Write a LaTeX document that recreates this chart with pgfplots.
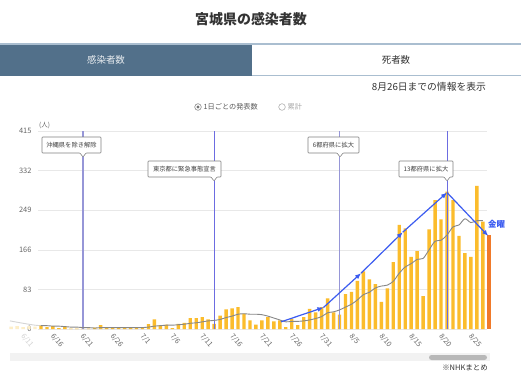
\documentclass[border=0pt]{standalone}
\usepackage{pgfplots}
\pgfplotsset{compat=1.18}
\usepackage{pgfplotstable}
\usetikzlibrary{arrows.meta}
\usepackage{fontspec}
\setmainfont{Noto Sans CJK JP}
\definecolor{barY}{RGB}{251,188,44}
\definecolor{barFade}{RGB}{253,238,200}
\definecolor{orangeBar}{RGB}{240,122,42}
\definecolor{tabBlue}{RGB}{82,112,138}
\definecolor{tabLine}{RGB}{170,190,208}
\definecolor{evA}{RGB}{150,150,215}
\definecolor{evB}{RGB}{108,108,225}
\definecolor{arrowBlue}{RGB}{60,92,240}
\definecolor{avgGray}{RGB}{135,135,135}
\definecolor{txtGray}{RGB}{102,102,102}

\pgfplotstableread{
i v
2 7
3 4
4 6
5 2
6 6
7 1
8 1
9 1
10 1
11 3
12 8
13 3
14 3
15 3
16 2
17 3
18 3
19 4
20 10
21 20
22 8
23 9
24 2
25 11
26 13
27 23
28 23
29 25
30 20
31 11
32 28
33 41
34 43
35 46
36 32
37 18
38 9
39 18
40 25
41 16
42 18
43 4
44 21
45 8
46 25
47 42
48 35
49 46
50 64
51 35
52 30
53 73
54 78
55 101
56 121
57 104
58 94
59 57
60 85
61 140
62 218
63 211
64 151
65 163
66 69
67 209
68 270
69 230
70 288
71 270
72 195
73 159
74 151
75 300
76 225
}\bars

\pgfplotstableread{
i a
2 7
3 7
4 6
5 6
6 5
7 4
8 4
9 3
10 3
11 2
12 3
13 3
14 3
15 3
16 3
17 3
18 3
19 3
20 4
21 6
22 7
23 8
24 8
25 9
26 10
27 12
28 13
29 15
30 17
31 18
32 20
33 24
34 27
35 31
36 32
37 31
38 31
39 30
40 27
41 23
42 19
43 15
44 16
45 16
46 17
47 19
48 22
49 26
50 34
51 36
52 40
53 46
54 52
55 61
56 72
57 77
58 86
59 90
60 92
61 100
62 117
63 130
64 137
65 146
66 148
67 166
68 184
69 186
70 197
71 214
72 218
73 231
74 223
75 227
76 227
}\avg

\newcommand{\callout}[6]{%
  \draw[draw=black!50, fill=white, line width=0.6bp, line join=round, rounded corners=0.8bp]
    (#1,#4) -- ({#5-3},#4) -- (#5,{#4-4}) -- ({#5+3},#4) -- (#2,#4) -- (#2,#3) -- (#1,#3) -- cycle;
  \node[font=\fontsize{6.3}{7}\selectfont, text=black!75, inner sep=0pt]
    at ({(#1+#2)/2},{(#3+#4)/2}) {#6};}

\begin{document}
\begin{tikzpicture}[x=1bp,y=1bp]
\path[use as bounding box] (0,0) rectangle (521,380);
\fill[white] (0,0) rectangle (521,380);

% title
\node[font=\fontsize{14}{16}\selectfont\bfseries, text=black!80] at (251,361) {宮城県の感染者数};

% tabs
\fill[tabBlue] (0,304) rectangle (252,336);
\draw[tabLine, line width=1.2bp] (0,336) -- (521,336);
\draw[tabLine, line width=1bp] (252,304.5) -- (521,304.5);
\node[font=\fontsize{9.5}{11}\selectfont, text=white!88!tabBlue] at (106,320) {感染者数};
\node[font=\fontsize{9.5}{11}\selectfont, text=black!80] at (396,320) {死者数};

% info text
\node[font=\fontsize{9.8}{11}\selectfont, text=black!80, anchor=east, inner sep=0pt] at (486,293) {8月26日までの情報を表示};

% radio buttons
\draw[black!45, line width=0.6bp] (198,273) circle (3.3);
\fill[black!55] (198,273) circle (1.6);
\node[font=\fontsize{7.2}{8}\selectfont, text=black!65, anchor=west, inner sep=0pt] at (203.5,273) {1日ごとの発表数};
\draw[black!30, line width=0.6bp] (282,273) circle (3.3);
\node[font=\fontsize{7.2}{8}\selectfont, text=black!35, anchor=west, inner sep=0pt] at (287.5,273) {累計};

% unit
\node[font=\fontsize{6.5}{7}\selectfont, text=txtGray, anchor=west, inner sep=0pt] at (39,254.5) {(人)};

\begin{axis}[
  at={(38bp,51bp)}, anchor=south west,
  scale only axis, width=449bp, height=198bp,
  xmin=1.5, xmax=76.7, ymin=0, ymax=415,
  clip=false,
  axis line style={draw=none},
  major tick length=0pt,
  ytick={0,83,166,249,332,415},
  ymajorgrids,
  major grid style={draw=black!9, line width=0.6bp},
  xtick={5,10,...,75},
  xticklabels={6/16,6/21,6/26,7/1,7/6,7/11,7/16,7/21,7/26,7/31,8/5,8/10,8/15,8/20,8/25},
  xticklabel style={rotate=-50, anchor=north west, xshift=-3bp, yshift=-2bp,
    font=\fontsize{7.2}{8}\selectfont, text=txtGray},
  yticklabel style={font=\fontsize{7.5}{8}\selectfont, text=txtGray, xshift=-3bp},
  /pgf/number format/assume math mode=true,
]
% faded left part
\addplot[ybar, bar width=3.4bp, bar shift=0pt, fill=barFade, draw=none]
  coordinates {(-3,5) (-2,6) (-1,4) (0,6) (1,5)};
\addplot[avgGray!35, line width=0.9bp, smooth] coordinates {(-3.2,17) (-1,12) (1,8) (2,7)};
% bars
\addplot[ybar, bar width=3.4bp, bar shift=0pt, fill=barY, draw=none] table[x=i,y=v]{\bars};
\addplot[ybar, bar width=4.6bp, bar shift=0pt, fill=orangeBar, draw=none] coordinates {(77,197)};
% event lines
\addplot[evA, line width=1.6bp] coordinates {(9,0) (9,415)};
\addplot[evB, line width=0.9bp] coordinates {(31,0) (31,415)};
\addplot[evA, line width=1.6bp] coordinates {(52,0) (52,415)};
\addplot[evB, line width=0.9bp] coordinates {(70,0) (70,415)};
% 7-day average
\addplot[avgGray, line width=0.9bp, smooth] table[x=i,y=a]{\avg};
% trend arrows
\addplot[arrowBlue, line width=1.2bp, -{Latex[length=6bp,width=5bp]}] coordinates {(42.2,15) (49.3,45)};
\addplot[arrowBlue, line width=1.2bp, -{Latex[length=6bp,width=5bp]}] coordinates {(49.3,45) (55.6,117)};
\addplot[arrowBlue, line width=1.2bp, -{Latex[length=6bp,width=5bp]}] coordinates {(55.6,117) (62.6,203)};
\addplot[arrowBlue, line width=1.2bp, -{Latex[length=6bp,width=5bp]}] coordinates {(62.6,203) (70,286)};
\addplot[arrowBlue, line width=1.2bp, -{Latex[length=6bp,width=5bp]}] coordinates {(70,286) (76.9,195)};
% faded first label
\node[rotate=-50, anchor=north west, xshift=-3bp, yshift=-2bp,
  font=\fontsize{7.2}{8}\selectfont, text=black!18] at (axis cs:0,0) {6/11};
\end{axis}

% callouts
\callout{42}{101}{243}{227}{83}{沖縄県を除き解除}
\callout{148}{221}{219}{203}{214}{東京都に緊急事態宣言}
\callout{308}{359}{243}{227}{340}{6都府県に拡大}
\callout{399}{453}{219}{203}{447}{13都府県に拡大}

% friday label
\node[font=\fontsize{8.5}{9}\selectfont\bfseries, text=arrowBlue, anchor=west, inner sep=0pt] at (488,156) {金曜};

% scrollbar
\fill[black!5] (10,19.3) rectangle (490,27.3);
\fill[black!28, rounded corners=2.5bp] (429,20) rectangle (487,25);

% source
\node[font=\fontsize{7.5}{8}\selectfont, text=black!80, anchor=east, inner sep=0pt] at (488,12) {※NHKまとめ};
\end{tikzpicture}
\end{document}
